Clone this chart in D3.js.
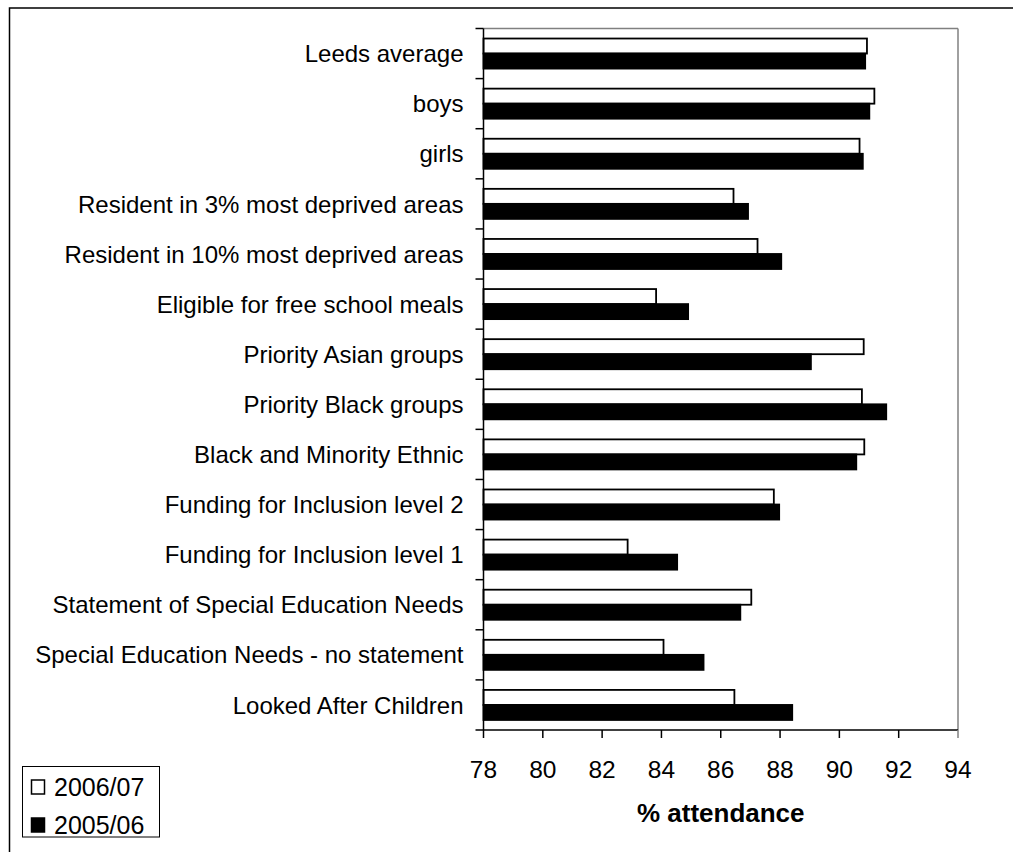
<!DOCTYPE html>
<html>
<head>
<meta charset="utf-8">
<script src="https://cdn.jsdelivr.net/npm/d3@7"></script>
<style>
  html, body { margin: 0; padding: 0; background: #fff; }
  svg { display: block; }
  text { font-family: "Liberation Sans", Arial, sans-serif; fill: #000; }
</style>
</head>
<body>
<svg id="chart" width="1013" height="852"></svg>
<script>
const categories = [
  "Leeds average",
  "boys",
  "girls",
  "Resident in 3% most deprived areas",
  "Resident in 10% most deprived areas",
  "Eligible for free school meals",
  "Priority Asian groups",
  "Priority Black groups",
  "Black and Minority Ethnic",
  "Funding for Inclusion level 2",
  "Funding for Inclusion level 1",
  "Statement of Special Education Needs",
  "Special Education Needs - no statement",
  "Looked After Children"
];
const seriesNames = ["2006/07", "2005/06"];
const values2006_07 = [90.93, 91.18, 90.68, 86.43, 87.24, 83.82, 90.82, 90.76, 90.84, 87.79, 82.86, 87.03, 84.07, 86.46];
const values2005_06 = [90.87, 91.01, 90.79, 86.92, 88.04, 84.90, 89.04, 91.58, 90.57, 87.97, 84.53, 86.66, 85.42, 88.41];
const xTicks = [78, 80, 82, 84, 86, 88, 90, 92, 94];
const xTitle = "% attendance";

const seriesValues = [values2006_07, values2005_06];
const seriesFill = ["#ffffff", "#000000"];

const svg = d3.select("#chart");
const W = 1013, H = 852;
const plot = { left: 483.5, right: 958, top: 28.5, bottom: 730 };

// outer frame (right/bottom edges lie outside the picture)
svg.append("rect")
  .attr("x", 9.5).attr("y", 8)
  .attr("width", W + 20).attr("height", H + 20)
  .attr("fill", "#fff").attr("stroke", "#000").attr("stroke-width", 1.5);

const x = d3.scaleLinear().domain([78, 94]).range([plot.left, plot.right]);
const y = d3.scaleBand().domain(categories).range([plot.top, plot.bottom]).paddingInner(0.4).paddingOuter(0.2);
const ySub = d3.scaleBand().domain(seriesNames).range([0, y.bandwidth()]);

// plot frame top/right in gray
svg.append("line").attr("x1", plot.left).attr("x2", plot.right).attr("y1", plot.top).attr("y2", plot.top)
  .attr("stroke", "#808080").attr("stroke-width", 1.5);
svg.append("line").attr("x1", plot.right).attr("x2", plot.right).attr("y1", plot.top).attr("y2", plot.bottom)
  .attr("stroke", "#808080").attr("stroke-width", 1.5);

// bars
seriesNames.forEach((s, si) => {
  svg.append("g").selectAll("rect")
    .data(categories.map((c, i) => ({ c, v: seriesValues[si][i] })))
    .join("rect")
    .attr("x", x(78))
    .attr("y", d => y(d.c) + ySub(s))
    .attr("width", d => x(d.v) - x(78))
    .attr("height", ySub.bandwidth())
    .attr("fill", seriesFill[si])
    .attr("stroke", "#000")
    .attr("stroke-width", 1.8);
});

// left axis: line + ticks at category boundaries
const yBound = d3.scaleLinear().domain([0, categories.length]).range([plot.top, plot.bottom]);
const gL = svg.append("g");
gL.append("line").attr("x1", plot.left).attr("x2", plot.left).attr("y1", plot.top).attr("y2", plot.bottom)
  .attr("stroke", "#000").attr("stroke-width", 1.5);
gL.selectAll("line.tk").data(d3.range(categories.length + 1)).join("line").attr("class", "tk")
  .attr("x1", plot.left - 8).attr("x2", plot.left)
  .attr("y1", d => yBound(d)).attr("y2", d => yBound(d))
  .attr("stroke", "#000").attr("stroke-width", 1.5);
gL.selectAll("text").data(categories).join("text")
  .attr("x", plot.left - 20)
  .attr("y", d => y(d) + y.bandwidth() / 2)
  .attr("dy", "0.36em")
  .attr("text-anchor", "end")
  .attr("font-size", 24)
  .text(d => d);

// bottom axis
const gB = svg.append("g");
gB.append("line").attr("x1", plot.left).attr("x2", plot.right).attr("y1", plot.bottom).attr("y2", plot.bottom)
  .attr("stroke", "#000").attr("stroke-width", 1.5);
gB.selectAll("line.tk").data(xTicks).join("line").attr("class", "tk")
  .attr("x1", d => x(d)).attr("x2", d => x(d))
  .attr("y1", plot.bottom).attr("y2", plot.bottom + 8)
  .attr("stroke", (d, i) => i === xTicks.length - 1 ? "#808080" : "#000").attr("stroke-width", 1.5);
gB.selectAll("text").data(xTicks).join("text")
  .attr("x", d => x(d))
  .attr("y", 777.5)
  .attr("text-anchor", "middle")
  .attr("font-size", 24.5)
  .text(d => d);

svg.append("text")
  .attr("x", (plot.left + plot.right) / 2)
  .attr("y", 822)
  .attr("text-anchor", "middle")
  .attr("font-size", 26)
  .attr("font-weight", "bold")
  .text(xTitle);

// legend
const lg = svg.append("g");
lg.append("rect").attr("x", 22.5).attr("y", 766.5).attr("width", 137).attr("height", 70.5)
  .attr("fill", "#fff").attr("stroke", "#000").attr("stroke-width", 1);
const legendBase = d3.scalePoint().domain(seriesNames).range([796, 834]);
seriesNames.forEach((s, si) => {
  lg.append("rect").attr("x", 31.5).attr("y", legendBase(s) - 16).attr("width", 13).attr("height", 14)
    .attr("fill", seriesFill[si]).attr("stroke", "#000").attr("stroke-width", 1.5);
  lg.append("text").attr("x", 54).attr("y", legendBase(s))
    .attr("font-size", 25)
    .text(s);
});
</script>
</body>
</html>
